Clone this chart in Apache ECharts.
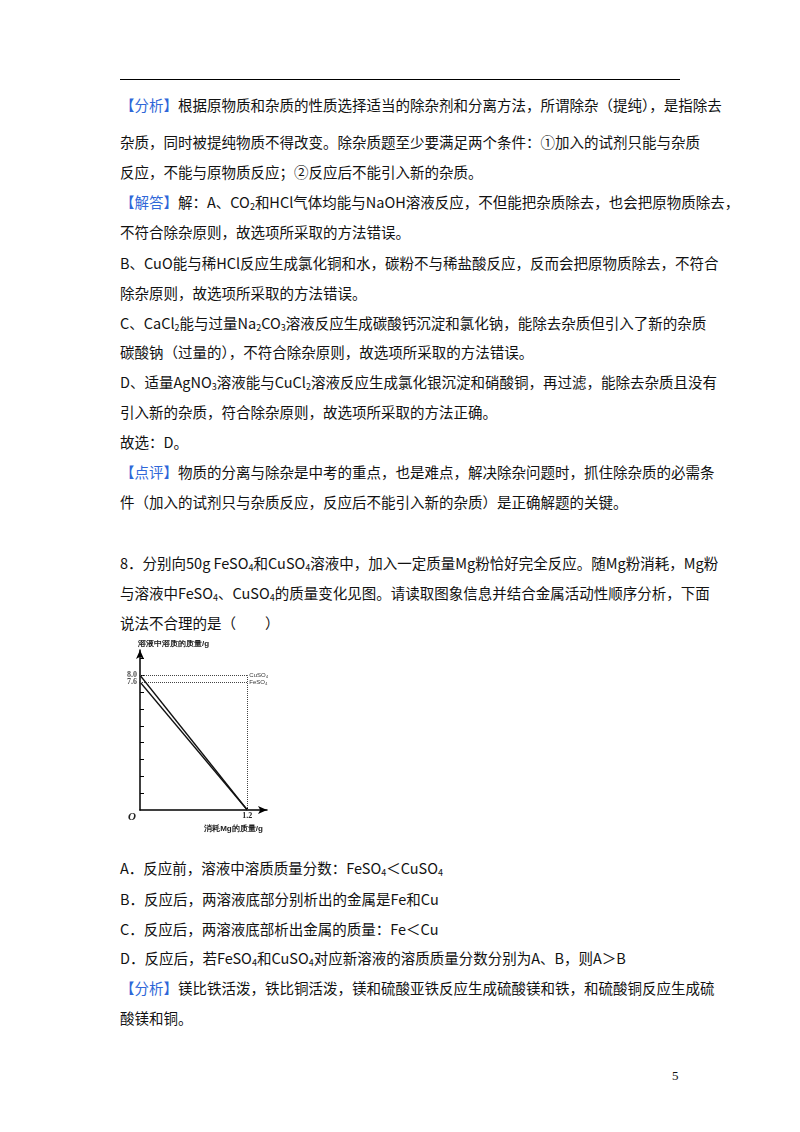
<!DOCTYPE html><html><head><meta charset="utf-8">
<script src="https://cdn.jsdelivr.net/npm/echarts@6/dist/echarts.min.js"></script>
<style>
body{margin:0;width:800px;height:1132px;background:#fff;position:relative;font-family:"Noto Sans CJK SC";color:#111;}
.l{position:absolute;left:120px;width:560px;font-size:14.5px;line-height:20px;white-space:nowrap;}
.j{text-align:justify;text-align-last:justify;}
.b{color:#2f67d8;}
sub{font-size:9px;vertical-align:-2px;line-height:0}
</style></head><body>
<div style="position:absolute;left:120px;top:79px;width:560px;height:1px;background:#000"></div>
<div class="l j" style="top:95px"><span class="b">【分析】</span>根据原物质和杂质的性质选择适当的除杂剂和分离方法，所谓除杂（提纯），是指除去</div>
<div class="l j" style="top:132px">杂质，同时被提纯物质不得改变。除杂质题至少要满足两个条件：①加入的试剂只能与杂质</div>
<div class="l" style="top:162px">反应，不能与原物质反应；②反应后不能引入新的杂质。</div>
<div class="l j" style="top:192px"><span class="b">【解答】</span>解：A、CO<sub>2</sub>和HCl气体均能与NaOH溶液反应，不但能把杂质除去，也会把原物质除去，</div>
<div class="l" style="top:222px">不符合除杂原则，故选项所采取的方法错误。</div>
<div class="l j" style="top:253px">B、CuO能与稀HCl反应生成氯化铜和水，碳粉不与稀盐酸反应，反而会把原物质除去，不符合</div>
<div class="l" style="top:283px">除杂原则，故选项所采取的方法错误。</div>
<div class="l j" style="top:313px">C、CaCl<sub>2</sub>能与过量Na<sub>2</sub>CO<sub>3</sub>溶液反应生成碳酸钙沉淀和氯化钠，能除去杂质但引入了新的杂质</div>
<div class="l" style="top:342px">碳酸钠（过量的），不符合除杂原则，故选项所采取的方法错误。</div>
<div class="l j" style="top:372px">D、适量AgNO<sub>3</sub>溶液能与CuCl<sub>2</sub>溶液反应生成氯化银沉淀和硝酸铜，再过滤，能除去杂质且没有</div>
<div class="l" style="top:402px">引入新的杂质，符合除杂原则，故选项所采取的方法正确。</div>
<div class="l" style="top:432px">故选：D。</div>
<div class="l j" style="top:462px"><span class="b">【点评】</span>物质的分离与除杂是中考的重点，也是难点，解决除杂问题时，抓住除杂质的必需条</div>
<div class="l" style="top:492px">件（加入的试剂只与杂质反应，反应后不能引入新的杂质）是正确解题的关键。</div>
<div class="l j" style="top:553px">8．分别向50g FeSO<sub>4</sub>和CuSO<sub>4</sub>溶液中，加入一定质量Mg粉恰好完全反应。随Mg粉消耗，Mg粉</div>
<div class="l j" style="top:583px">与溶液中FeSO<sub>4</sub>、CuSO<sub>4</sub>的质量变化见图。请读取图象信息并结合金属活动性顺序分析，下面</div>
<div class="l" style="top:613px">说法不合理的是（　　）</div>
<div class="l" style="top:858px">A．反应前，溶液中溶质质量分数：FeSO<sub>4</sub>＜CuSO<sub>4</sub></div>
<div class="l" style="top:889px">B．反应后，两溶液底部分别析出的金属是Fe和Cu</div>
<div class="l" style="top:919px">C．反应后，两溶液底部析出金属的质量：Fe＜Cu</div>
<div class="l" style="top:948px">D．反应后，若FeSO<sub>4</sub>和CuSO<sub>4</sub>对应新溶液的溶质质量分数分别为A、B，则A＞B</div>
<div class="l j" style="top:978px"><span class="b">【分析】</span>镁比铁活泼，铁比铜活泼，镁和硫酸亚铁反应生成硫酸镁和铁，和硫酸铜反应生成硫</div>
<div class="l" style="top:1008px">酸镁和铜。</div>
<div style="position:absolute;left:672px;top:1068px;font-size:13px;font-family:'Liberation Serif'">5</div>
<div id="c" style="position:absolute;left:100px;top:640px;width:200px;height:200px"></div>
<script>
const cuso4 = [[0, 8.0], [1.2, 0]];
const feso4 = [[0, 7.6], [1.2, 0]];
const yTicks = [1,2,3,4,5,6,7,8,9];
const yLabels = [8.0, 7.6];
const xLabels = [1.2];
const f = {fontSize:8,color:'#222',fontFamily:'Liberation Serif',fontWeight:'bold'};
const ch = echarts.init(document.getElementById('c'));
ch.setOption({
 animation:false,
 grid:{left:40,top:9,width:127,height:161,containLabel:false},
 xAxis:{type:'value',min:0,max:1.42,splitLine:{show:false},
  axisLine:{symbol:['none','arrow'],symbolSize:[6,9],lineStyle:{color:'#000',width:1.5}},
  axisTick:{customValues:xLabels,inside:true,length:3,lineStyle:{color:'#000'}},
  axisLabel:{customValues:xLabels,margin:2,...f,formatter:v=>v.toFixed(1)},
  name:'消耗Mg的质量/g',nameLocation:'middle',nameGap:14,nameTextStyle:{fontSize:8,color:'#222',fontWeight:'bold',padding:[0,0,0,60]}},
 yAxis:{type:'value',min:0,max:9.5,splitLine:{show:false},
  axisLine:{symbol:['none','arrow'],symbolSize:[6,9],lineStyle:{color:'#000',width:1.5}},
  axisTick:{customValues:yTicks,inside:true,length:4,lineStyle:{color:'#000'}},
  axisLabel:{show:false},
  name:'溶液中溶质的质量/g',nameGap:2,nameTextStyle:{fontSize:8,color:'#222',fontWeight:'bold',align:'left',padding:[0,0,0,-2]}},
 graphic:[{type:'text',left:28,top:172,style:{text:'O',font:'italic bold 11px Liberation Serif',fill:'#222'}}],
 series:[
  {type:'line',data:cuso4,symbol:'none',lineStyle:{color:'#111',width:1.3},
   markLine:{silent:true,symbol:'none',lineStyle:{type:'dotted',color:'#444',width:1},label:{show:false},
    data:[[{coord:[0,8]},{coord:[1.2,8],label:{show:true,position:'end',formatter:'CuSO₄',fontSize:6,color:'#333',distance:2}}],
          [{coord:[1.2,0]},{coord:[1.2,8]}]]}},
  {type:'line',data:feso4,symbol:'none',lineStyle:{color:'#111',width:1.3},
   markLine:{silent:true,symbol:'none',lineStyle:{type:'dotted',color:'#444',width:1},label:{show:false},
    data:[[{coord:[0,7.6]},{coord:[1.2,7.6],label:{show:true,position:'end',formatter:'FeSO₄',fontSize:6,color:'#333',distance:2}}]]}},
  {type:'scatter',data:yLabels.map((v,i)=>({value:[0,v],label:{offset:[0,i?2:-2]}})),symbolSize:0,
   label:{show:true,position:'left',distance:3,...f,formatter:p=>p.value[1].toFixed(1)},labelLayout:{hideOverlap:false}}
 ]
});
</script></body></html>
